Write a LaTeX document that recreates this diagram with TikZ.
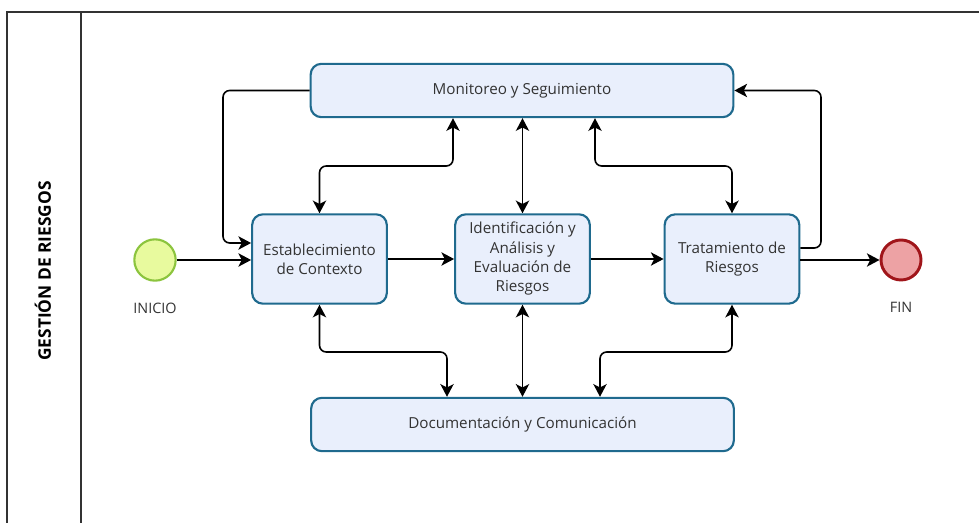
\documentclass[tikz,border=0pt]{standalone}
\usepackage{fontspec}
\setmainfont{Open Sans}
\usetikzlibrary{arrows.meta,calc}
\definecolor{boxfill}{HTML}{E9EFFC}
\definecolor{boxdraw}{HTML}{1F6A8E}
\definecolor{txt}{HTML}{333333}
\definecolor{inifill}{HTML}{E8FA9E}
\definecolor{inidraw}{HTML}{8CC43E}
\definecolor{finfill}{HTML}{EDA2A4}
\definecolor{findraw}{HTML}{A0151A}
\definecolor{lane}{HTML}{333333}
\tikzset{
  procbox/.style={draw=boxdraw, fill=boxfill, line width=1.6pt, rounded corners=8pt,
    text=txt, align=center, font=\fontsize{11.4}{14.5}\selectfont, inner sep=0pt},
  midbox/.style={procbox, minimum width=101pt, minimum height=67pt},
  widebox/.style={procbox, minimum width=317pt, minimum height=40pt},
  conn/.style={draw=black, line width=1.2pt, rounded corners=5pt},
  tip/.style={-{Stealth[length=9.5pt,width=10pt,inset=2.5pt]}},
  dtip/.style={{Stealth[length=9.5pt,width=10pt,inset=2.5pt]}-{Stealth[length=9.5pt,width=10pt,inset=2.5pt]}},
  evlabel/.style={text=txt, font=\fontsize{10.8}{12}\selectfont},
}
\begin{document}
\begin{tikzpicture}[x=0.75pt,y=-0.75pt]
\useasboundingbox (0,0) rectangle (979,523);
% lane frame
\draw[lane, line width=1.2pt] (7,523) -- (7,12) -- (979,12);
\draw[lane, line width=1.2pt] (81,12) -- (81,523);
\node[rotate=90, font=\bfseries\fontsize{13}{14}\selectfont, text=black] (title) at (43,271) {GESTIÓN DE RIESGOS};

% nodes
\node[widebox] (mon) at (522,90.5) {Monitoreo y Seguimiento};
\node[midbox] (est) at (319.5,259) {Establecimiento\\de Contexto};
\node[midbox] (ide) at (522.5,259) {Identificación y\\Análisis y\\Evaluación de\\Riesgos};
\node[midbox] (tra) at (732,259) {Tratamiento de\\Riesgos};
\node[widebox] (doc) at (522.5,424.5) {Documentación y Comunicación};
\node[circle, draw=inidraw, fill=inifill, line width=1.6pt, minimum size=31pt, inner sep=0pt] (ini) at (155,260) {};
\node[circle, draw=findraw, fill=finfill, line width=2.2pt, minimum size=30pt, inner sep=0pt] (fin) at (901,260) {};
\node[evlabel] (inil) at (155,308) {INICIO};
\node[evlabel] (finl) at (901,307) {FIN};

% helper coordinates
\coordinate (m1) at (453,166);
\coordinate (m2) at (595,166);
\coordinate (c1) at (223,243);
\coordinate (c2) at (821,248);
\coordinate (b1) at (447,352);
\coordinate (b2) at (600,352);

% main flow
\draw[conn, tip] (ini.east) -- (ini.east -| est.west);
\draw[conn, tip] (est.east) -- (ide.west);
\draw[conn, tip] (ide.east) -- (tra.west);
\draw[conn, tip] (tra.east |- fin.west) -- (fin.west);

% monitoring links
\draw[conn, dtip] (mon.south -| m1) -- (m1) -| (est.north);
\draw[conn, dtip] (mon.south -| ide.north) -- (ide.north);
\draw[conn, dtip] (mon.south -| m2) -- (m2) -| (tra.north);
\draw[conn, tip] (mon.west) -| (c1) -- (c1 -| est.west);
\draw[conn, tip] (c2 -| tra.east) -- (c2) |- (mon.east);

% documentation links
\draw[conn, dtip] (est.south) |- (b1) -- (b1 |- doc.north);
\draw[conn, dtip] (ide.south) -- (ide.south |- doc.north);
\draw[conn, dtip] (tra.south) |- (b2) -- (b2 |- doc.north);
\end{tikzpicture}
\end{document}
